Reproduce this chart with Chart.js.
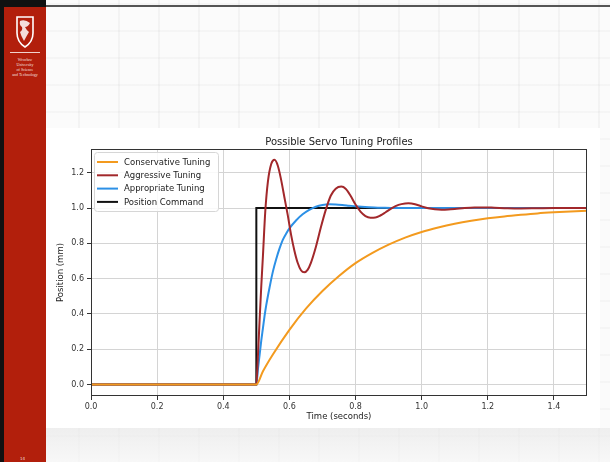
<!DOCTYPE html>
<html>
<head>
<meta charset="utf-8">
<script src="https://cdn.jsdelivr.net/npm/chart.js@4.4.1/dist/chart.umd.min.js"></script>
<style>
    html, body {
        margin: 0;
        padding: 0;
    }
    body {
        width: 610px;
        height: 462px;
        position: relative;
        overflow: hidden;
        background-color: #fbfbfb;
        background-image:
            repeating-linear-gradient(90deg, rgba(0,0,0,0) 0px, rgba(0,0,0,0) 38px, rgba(0,0,0,0.03) 38px, rgba(0,0,0,0.03) 40px),
            repeating-linear-gradient(0deg, rgba(0,0,0,0) 0px, rgba(0,0,0,0) 25px, rgba(0,0,0,0.025) 25px, rgba(0,0,0,0.025) 27px);
        font-family: "DejaVu Sans", sans-serif;
    }
    #frameTop {
        position: absolute;
        left: 0; top: 5px;
        width: 610px; height: 2px;
        background: #555;
    }
    #frameLeft {
        position: absolute;
        left: 0; top: 0;
        width: 4px; height: 462px;
        background: #111;
    }
    #frameCorner {
        position: absolute;
        left: 0; top: 0;
        width: 46px; height: 7px;
        background: #111;
    }
    #sidebar {
        position: absolute;
        left: 4px; top: 7px;
        width: 42px; height: 455px;
        background: #b21f0c;
        color: #fff;
    }
    #logo {
        position: absolute;
        left: 11px; top: 8px;
    }
    #rule {
        position: absolute;
        left: 6px; top: 45px;
        width: 30px; height: 1px;
        background: rgba(255,255,255,0.8);
    }
    #uni {
        position: absolute;
        left: 0; top: 50px;
        width: 42px;
        text-align: center;
        font-family: "Liberation Serif", serif;
        font-size: 4px;
        line-height: 5px;
        color: rgba(255,255,255,0.9);
    }
    #pageNo {
        position: absolute;
        left: 16px; top: 449px;
        font-size: 4px;
        color: rgba(255,255,255,0.85);
    }
    #bottomStrip {
        position: absolute;
        left: 46px; top: 428px;
        width: 564px; height: 34px;
        background: linear-gradient(180deg, #e9e9e9, #f6f6f6);
        opacity: 0.7;
    }
    #chartBox {
        position: absolute;
        left: 46px; top: 128px;
        width: 554px; height: 300px;
        background: #fff;
    }
</style>
</head>
<body>
<div id="frameTop"></div>
<div id="bottomStrip"></div>
<div id="sidebar">
    <svg id="logo" width="20" height="34" viewBox="0 0 20 34">
        <path d="M2 2 L18 2 L18 18 Q18 27 10 32 Q2 27 2 18 Z" fill="none" stroke="#fff" stroke-width="1.6"/>
        <path d="M5 6 Q10 4 15 8 Q13 12 10 12 Q12 16 14 17 Q11 22 9 26 Q6 21 5 17 Q8 15 7 12 Q4 10 5 6 Z" fill="#fff" opacity="0.85"/>
    </svg>
    <div id="rule"></div>
    <div id="uni">Wrocław<br>University<br>of Science<br>and Technology</div>
    <div id="pageNo">14</div>
</div>
<div id="frameLeft"></div>
<div id="frameCorner"></div>
<div id="chartBox"><canvas id="chart" width="554" height="300"></canvas></div>

<script>
// command step
const commandT = [0.0, 0.5, 0.5, 1.5];
const commandY = [0.0, 0.0, 1.0, 1.0];

// conservative (slow) response
const conservativeT = [0.0, 0.5, 0.52, 0.55, 0.6, 0.65, 0.7, 0.75, 0.8, 0.85, 0.9, 0.95, 1.0, 1.05, 1.1, 1.15, 1.2, 1.25, 1.3, 1.35, 1.4, 1.45, 1.5];
const conservativeY = [0.0, 0.0, 0.075, 0.17, 0.31, 0.43, 0.53, 0.615, 0.688, 0.745, 0.793, 0.833, 0.865, 0.89, 0.911, 0.928, 0.942, 0.953, 0.962, 0.97, 0.976, 0.981, 0.985];

// aggressive (underdamped) response
const aggressiveT = [0.0, 0.5, 0.505, 0.51, 0.515, 0.52, 0.527, 0.535, 0.545, 0.555, 0.565, 0.575, 0.585, 0.595, 0.605, 0.615, 0.625, 0.635, 0.645, 0.655, 0.665, 0.68, 0.695, 0.71, 0.725, 0.74, 0.757, 0.77, 0.785, 0.8, 0.815, 0.83, 0.845, 0.86, 0.875, 0.89, 0.91, 0.93, 0.95, 0.96, 0.98, 1.0, 1.02, 1.04, 1.06, 1.08, 1.1, 1.13, 1.16, 1.19, 1.22, 1.26, 1.3, 1.35, 1.4, 1.5];
const aggressiveY = [0.0, 0.0, 0.17, 0.37, 0.56, 0.73, 0.98, 1.15, 1.25, 1.274, 1.24, 1.16, 1.06, 0.96, 0.85, 0.76, 0.69, 0.648, 0.636, 0.65, 0.69, 0.78, 0.89, 0.99, 1.07, 1.11, 1.122, 1.11, 1.07, 1.02, 0.98, 0.955, 0.946, 0.947, 0.958, 0.975, 1.0, 1.018, 1.026, 1.027, 1.022, 1.01, 0.999, 0.993, 0.991, 0.992, 0.995, 1.001, 1.004, 1.004, 1.002, 0.999, 0.998, 0.999, 1.0, 1.0];

// appropriate (well damped) response
const appropriateT = [0.0, 0.5, 0.505, 0.51, 0.515, 0.52, 0.525, 0.53, 0.54, 0.55, 0.56, 0.57, 0.58, 0.59, 0.6, 0.62, 0.64, 0.66, 0.68, 0.7, 0.72, 0.74, 0.76, 0.78, 0.8, 0.84, 0.88, 0.92, 1.0, 1.5];
const appropriateY = [0.0, 0.0, 0.09, 0.17, 0.25, 0.32, 0.39, 0.45, 0.55, 0.64, 0.71, 0.77, 0.82, 0.855, 0.885, 0.93, 0.965, 0.99, 1.008, 1.018, 1.022, 1.021, 1.018, 1.014, 1.01, 1.005, 1.002, 1.0, 1.0, 1.0];

const xTicks = [0.0, 0.2, 0.4, 0.6, 0.8, 1.0, 1.2, 1.4];
const yTicks = [0.0, 0.2, 0.4, 0.6, 0.8, 1.0, 1.2];

const chartTitle = "Possible Servo Tuning Profiles";
const xTitle = "Time (seconds)";
const yTitle = "Position (mm)";

function toPoints(ts, ys) {
    return ts.map((t, i) => ({ x: t, y: ys[i] }));
}

const font = "'DejaVu Sans', sans-serif";

// title centred over the plot area, the way matplotlib does it
const plotTitle = {
    id: "plotTitle",
    afterDraw(chart) {
        const ctx = chart.ctx;
        const area = chart.chartArea;
        ctx.save();
        ctx.fillStyle = "#222";
        ctx.font = "10px " + font;
        ctx.textAlign = "center";
        ctx.textBaseline = "bottom";
        ctx.fillText(chartTitle, (area.left + area.right) / 2, area.top - 2);
        ctx.restore();
    }
};

// box around the whole plot area
const plotFrame = {
    id: "plotFrame",
    afterDatasetsDraw(chart) {
        const ctx = chart.ctx;
        const a = chart.chartArea;
        ctx.save();
        ctx.strokeStyle = "#333";
        ctx.lineWidth = 1;
        ctx.strokeRect(Math.round(a.left) + 0.5, Math.round(a.top) + 0.5, Math.round(a.right - a.left) - 1, Math.round(a.bottom - a.top) - 1);
        ctx.restore();
    }
};

// legend in the upper left corner of the axes
const innerLegend = {
    id: "innerLegend",
    afterDraw(chart) {
        const ctx = chart.ctx;
        const a = chart.chartArea;
        const x = a.left + 3;
        const y = a.top + 3;
        const w = 124;
        const h = 59;
        ctx.save();
        ctx.beginPath();
        ctx.roundRect(x + 0.5, y + 0.5, w, h, 3);
        ctx.fillStyle = "rgba(255,255,255,0.85)";
        ctx.fill();
        ctx.strokeStyle = "#d6d6d6";
        ctx.lineWidth = 1;
        ctx.stroke();

        ctx.font = "8.5px " + font;
        ctx.textBaseline = "middle";
        ctx.textAlign = "left";
        chart.data.datasets.forEach((ds, i) => {
            const rowY = y + 10 + i * 13.3;
            ctx.strokeStyle = ds.borderColor;
            ctx.lineWidth = 2;
            ctx.beginPath();
            ctx.moveTo(x + 3, rowY);
            ctx.lineTo(x + 24, rowY);
            ctx.stroke();
            ctx.fillStyle = "#222";
            ctx.fillText(ds.label, x + 30, rowY + 0.5);
        });
        ctx.restore();
    }
};

function lineSet(label, ts, ys, color) {
    return {
        label: label,
        data: toPoints(ts, ys),
        borderColor: color,
        backgroundColor: color,
        borderWidth: 2,
        showLine: true,
        pointRadius: 0,
        pointHoverRadius: 0,
        cubicInterpolationMode: "monotone",
        fill: false
    };
}

const datasets = [
    lineSet("Conservative Tuning", conservativeT, conservativeY, "#f39a1e"),
    lineSet("Aggressive Tuning", aggressiveT, aggressiveY, "#a2282b"),
    lineSet("Appropriate Tuning", appropriateT, appropriateY, "#2c90e6"),
    lineSet("Position Command", commandT, commandY, "#111111")
];
datasets[3].cubicInterpolationMode = "default";
datasets[3].tension = 0;

new Chart(document.getElementById("chart").getContext("2d"), {
    type: "scatter",
    data: { datasets },
    plugins: [plotFrame, innerLegend, plotTitle],
    options: {
        responsive: false,
        animation: false,
        events: [],
        layout: {
            padding: { left: 0, right: 13, top: 21, bottom: 0 }
        },
        plugins: {
            legend: { display: false },
            title: { display: false },
            tooltip: { enabled: false }
        },
        scales: {
            x: {
                type: "linear",
                min: 0,
                max: 1.5,
                afterBuildTicks: (axis) => {
                    axis.ticks = xTicks.map(v => ({ value: v }));
                },
                afterFit: (axis) => {
                    axis.height = 32;
                },
                grid: {
                    color: "#d4d4d4",
                    tickColor: "#333",
                    tickLength: 4,
                    lineWidth: 1
                },
                border: { display: false },
                ticks: {
                    color: "#333",
                    font: { family: font, size: 8 },
                    padding: 2,
                    maxRotation: 0,
                    callback: (v) => Number(v).toFixed(1)
                },
                title: {
                    display: true,
                    text: xTitle,
                    color: "#222",
                    font: { family: font, size: 8.5 },
                    padding: { top: 6, bottom: 6 }
                }
            },
            y: {
                type: "linear",
                min: -0.065,
                max: 1.335,
                afterBuildTicks: (axis) => {
                    axis.ticks = yTicks.map(v => ({ value: v }));
                },
                afterFit: (axis) => {
                    axis.width = 45;
                },
                grid: {
                    color: "#d4d4d4",
                    tickColor: "#333",
                    tickLength: 4,
                    lineWidth: 1
                },
                border: { display: false },
                ticks: {
                    color: "#333",
                    font: { family: font, size: 8 },
                    padding: 3,
                    callback: (v) => Number(v).toFixed(1)
                },
                title: {
                    display: true,
                    text: yTitle,
                    color: "#222",
                    font: { family: font, size: 8.5 },
                    padding: { top: 10, bottom: 10 }
                }
            }
        }
    }
});
</script>
</body>
</html>
